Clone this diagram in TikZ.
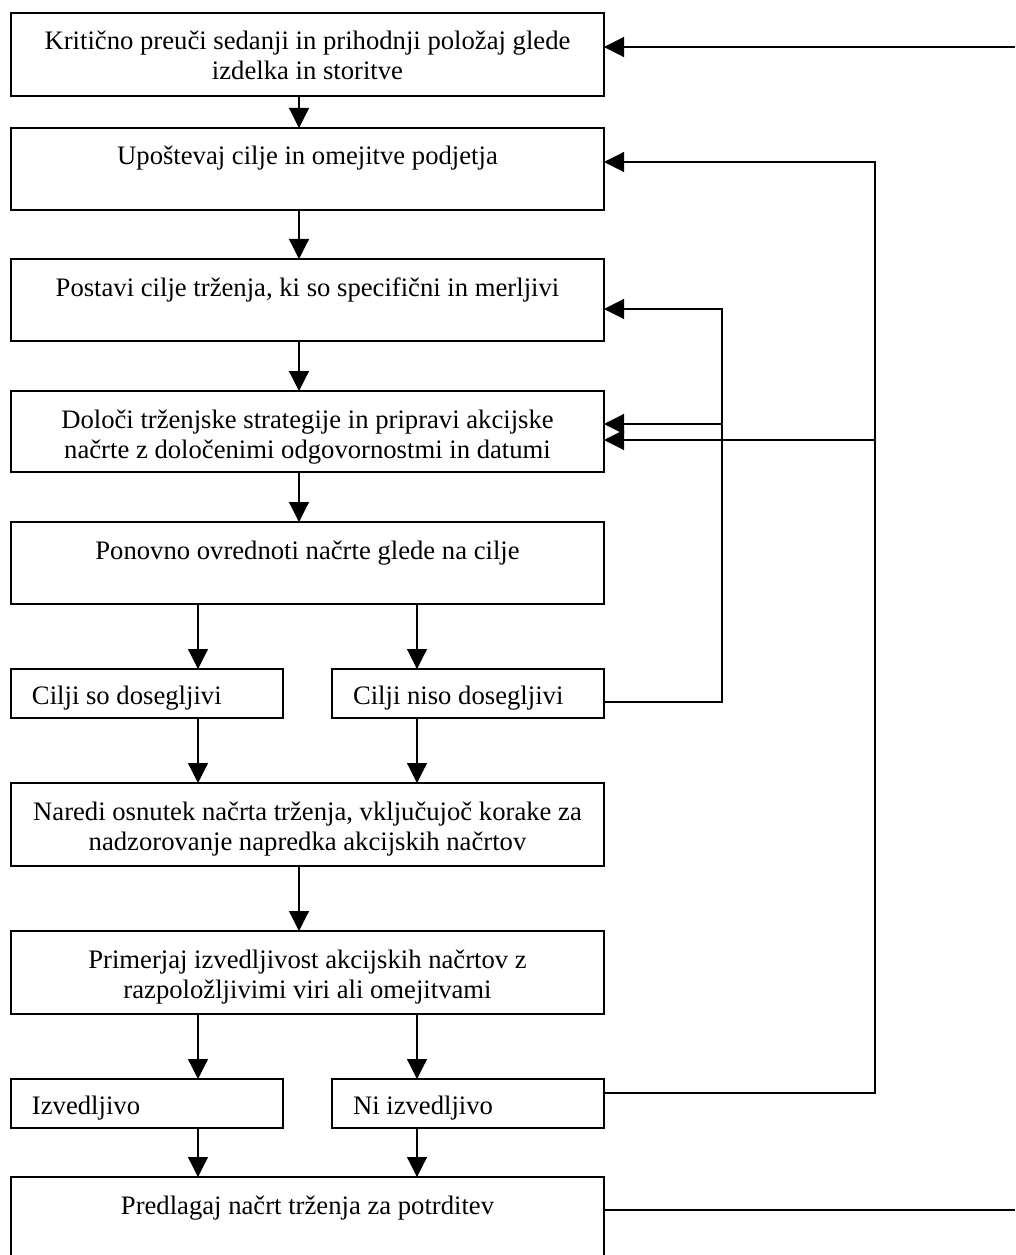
\documentclass[tikz,border=0pt]{standalone}
\usepackage{fontspec}
\setmainfont{Liberation Serif}
\usetikzlibrary{arrows.meta}
% one drawing unit = one pixel of the layout grid
\newlength\pxu
\setlength\pxu{0.75pt}
% wide step box: fixed height, text centred with its first baseline 37 units below the top
\newcommand{\widetext}[2]{\parbox[t][#1\pxu][t]{593\pxu}{\centering\rule{0pt}{37\pxu}#2}}
% short outcome box: text set flush left with a small indent
\newcommand{\shorttext}[1]{\parbox[t][49\pxu][t]{272\pxu}{\raggedright\hspace*{21\pxu}\rule{0pt}{35\pxu}#1}}
\begin{document}
\begin{tikzpicture}[x=0.75pt, y=-0.75pt,
  stage/.style={draw, line width=1pt, inner sep=0pt, outer sep=0pt,
    anchor=north west, font=\fontsize{20pt}{22.5pt}\selectfont},
  flow/.style={line width=0.9pt, -{Triangle[length=15pt,width=15pt]}},
  link/.style={line width=0.9pt}]
\useasboundingbox (0,0) rectangle (1015,1255);
\clip (0,0) rectangle (1015,1255);

% main chain of steps
\node[stage] (b1) at (11,13)  {\widetext{83}{Kritično preuči sedanji in prihodnji položaj glede\\izdelka in storitve}};
\node[stage] (b2) at (11,128) {\widetext{82}{Upoštevaj cilje in omejitve podjetja}};
\node[stage] (b3) at (11,259) {\widetext{82}{Postavi cilje trženja, ki so specifični in merljivi}};
\node[stage] (b4) at (11,391) {\widetext{81}{Določi trženjske strategije in pripravi akcijske\\načrte z določenimi odgovornostmi in datumi}};
\node[stage] (b5) at (11,522) {\widetext{82}{Ponovno ovrednoti načrte glede na cilje}};
\node[stage] (c1) at (11,669)  {\shorttext{Cilji so dosegljivi}};
\node[stage] (c2) at (332,669) {\shorttext{Cilji niso dosegljivi}};
\node[stage] (b6) at (11,783) {\widetext{83}{Naredi osnutek načrta trženja, vključujoč korake za\\nadzorovanje napredka akcijskih načrtov}};
\node[stage] (b7) at (11,931) {\widetext{83}{Primerjaj izvedljivost akcijskih načrtov z\\razpoložljivimi viri ali omejitvami}};
\node[stage] (d1) at (11,1079)  {\shorttext{Izvedljivo}};
\node[stage] (d2) at (332,1079) {\shorttext{Ni izvedljivo}};
\node[stage] (b8) at (11,1177) {\widetext{120}{Predlagaj načrt trženja za potrditev}};

% columns of the downward arrows
\coordinate (mid) at (299,0);
\coordinate (lft) at (198,0);
\coordinate (rgt) at (417,0);

\draw[flow] (b1.south -| mid) -- (b2.north -| mid);
\draw[flow] (b2.south -| mid) -- (b3.north -| mid);
\draw[flow] (b3.south -| mid) -- (b4.north -| mid);
\draw[flow] (b4.south -| mid) -- (b5.north -| mid);
\draw[flow] (b5.south -| lft) -- (c1.north -| lft);
\draw[flow] (b5.south -| rgt) -- (c2.north -| rgt);
\draw[flow] (c1.south -| lft) -- (b6.north -| lft);
\draw[flow] (c2.south -| rgt) -- (b6.north -| rgt);
\draw[flow] (b6.south -| mid) -- (b7.north -| mid);
\draw[flow] (b7.south -| lft) -- (d1.north -| lft);
\draw[flow] (b7.south -| rgt) -- (d2.north -| rgt);
\draw[flow] (d1.south -| lft) -- (b8.north -| lft);
\draw[flow] (d2.south -| rgt) -- (b8.north -| rgt);

% outer return from the final step to the first one
\coordinate (ret) at (1015,47);
\coordinate (exit) at (1015,1210);
\draw[link] (b8.east |- exit) -- (exit);
\draw[flow] (ret) -- (b1.east |- ret);

% return when the plans are not feasible
\coordinate (oa) at (875,1093);
\coordinate (ob) at (875,162);
\coordinate (oc) at (875,440);
\draw[flow] (d2.east |- oa) -- (oa) -- (ob) -- (b2.east |- ob);
\draw[flow] (oc) -- (b4.east |- oc);

% return when the goals are not reachable
\coordinate (ia) at (722,702);
\coordinate (ib) at (722,309);
\coordinate (ic) at (722,424);
\draw[flow] (c2.east |- ia) -- (ia) -- (ib) -- (b3.east |- ib);
\draw[flow] (ic) -- (b4.east |- ic);
\end{tikzpicture}
\end{document}
